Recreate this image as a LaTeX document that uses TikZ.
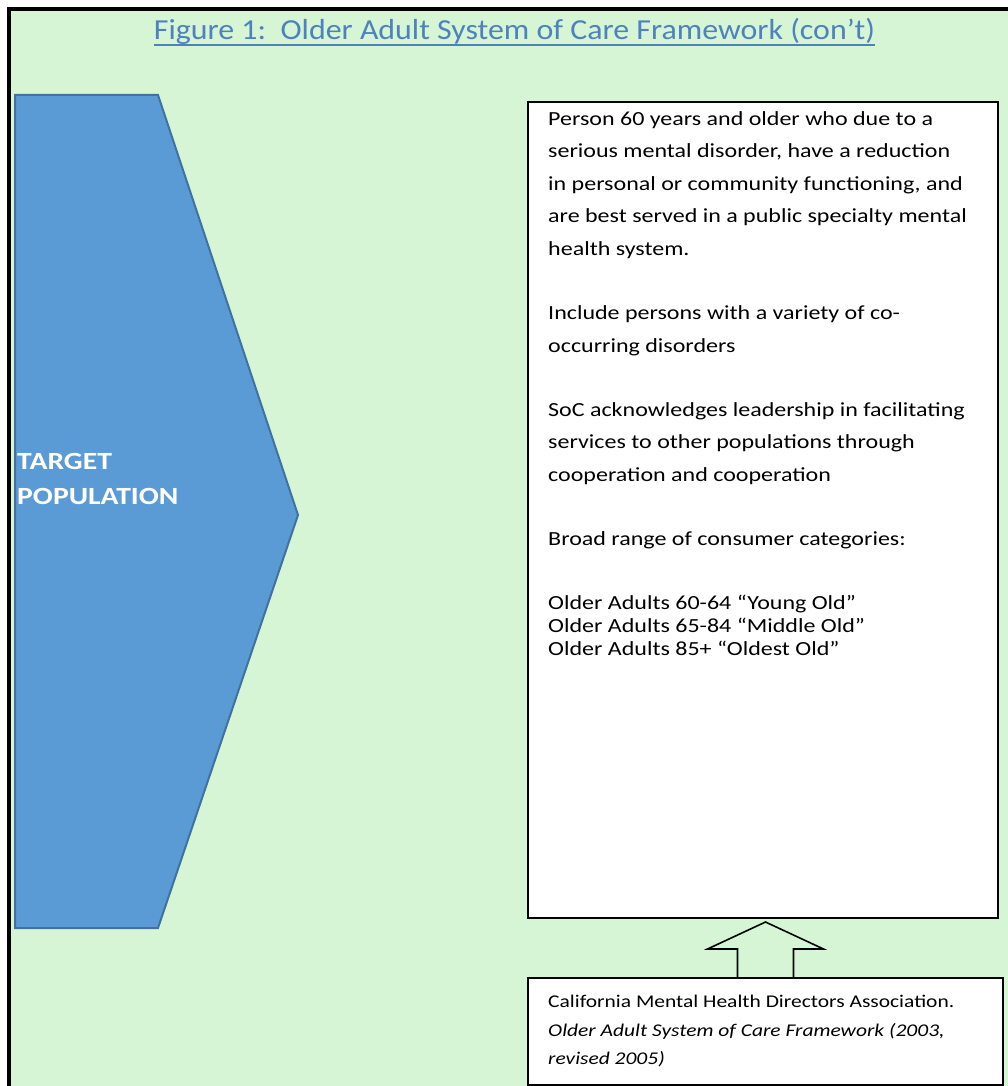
\documentclass[tikz,border=0pt]{standalone}
\usepackage{fontspec}
\setmainfont{Carlito}[FakeStretch=1.2]
\newfontfamily\titlefont{Carlito}[FakeStretch=1.1]
\usetikzlibrary{calc}
\definecolor{bggreen}{HTML}{D5F5D5}
\definecolor{arrowblue}{HTML}{5B9BD5}
\definecolor{arrowedge}{HTML}{41719C}
\definecolor{titleblue}{HTML}{4F81BD}
\tikzset{
  textbox/.style={draw=black, line width=1.8pt, fill=white, inner sep=0pt},
  bodytext/.style={anchor=north west, inner sep=0pt, align=left, font=\fontsize{20}{32.6}\selectfont},
  srcfont/.style={anchor=north west, inner sep=0pt, align=left, font=\fontsize{17.9}{28.5}\selectfont},
}
\begin{document}
\begin{tikzpicture}[x=1pt,y=-1pt]
  \useasboundingbox (0,0) rectangle (1008,1086);
  \fill[bggreen] (10,11) rectangle (1008,1086);
  \draw[line width=4pt] (8.7,1090) -- (8.7,9) -- (1012,9);
  \node[text=titleblue, inner sep=0pt, font=\titlefont\fontsize{29}{32}\selectfont] (title) at (514.5,31)
    {Figure 1:\ \ Older Adult System of Care Framework (con’t)};
  \draw[titleblue, line width=2pt] ($(title.base west)+(0,5.5)$) -- ($(title.base east)+(0,5.5)$);
  % big target arrow
  \draw[fill=arrowblue, draw=arrowedge, line width=2pt]
    (15,95) -- (158,95) -- (298,515) -- (158,928) -- (15,928) -- cycle;
  \node[anchor=west, inner sep=0pt, align=left, text=white,
        font=\fontsize{24.7}{35}\selectfont\bfseries] (target) at (17,478.5) {TARGET\\POPULATION};
  % boxes
  \node[textbox, minimum width=470, minimum height=816, anchor=north west] (popbox) at (527,101) {};
  \node[bodytext] (poptext) at ($(popbox.north west)+(21,10)$) {%
    Person 60 years and older who due to a\\
    serious mental disorder, have a reduction\\
    in personal or community functioning, and\\
    are best served in a public specialty mental\\
    health system.\\[31.5pt]
    Include persons with a variety of co-\\
    occurring disorders\\[31.5pt]
    SoC acknowledges leadership in facilitating\\
    services to other populations through\\
    cooperation and cooperation\\[31.5pt]
    Broad range of consumer categories:\\[31.5pt]
    Older Adults 60-64 “Young Old”\\[-9.6pt]
    Older Adults 65-84 “Middle Old”\\[-9.6pt]
    Older Adults 85+ “Oldest Old”};
  \node[textbox, line width=2pt, minimum width=475, minimum height=107, anchor=north west] (srcbox) at (527,977) {};
  \node[srcfont] (srctext) at ($(srcbox.north west)+(21,18)$) {%
    California Mental Health Directors Association.\\
    \textit{Older Adult System of Care Framework (2003,}\\
    \textit{revised 2005)}};
  % block arrow up
  \draw[line width=1.6pt]
    ($(srcbox.north)+(-28,0)$) -- ++(0,-28) -- ++(-30,0) -- ($(srcbox.north)+(0,-55)$)
    -- ($(srcbox.north)+(58,-28)$) -- ++(-30,0) -- ++(0,28);
\end{tikzpicture}
\end{document}
